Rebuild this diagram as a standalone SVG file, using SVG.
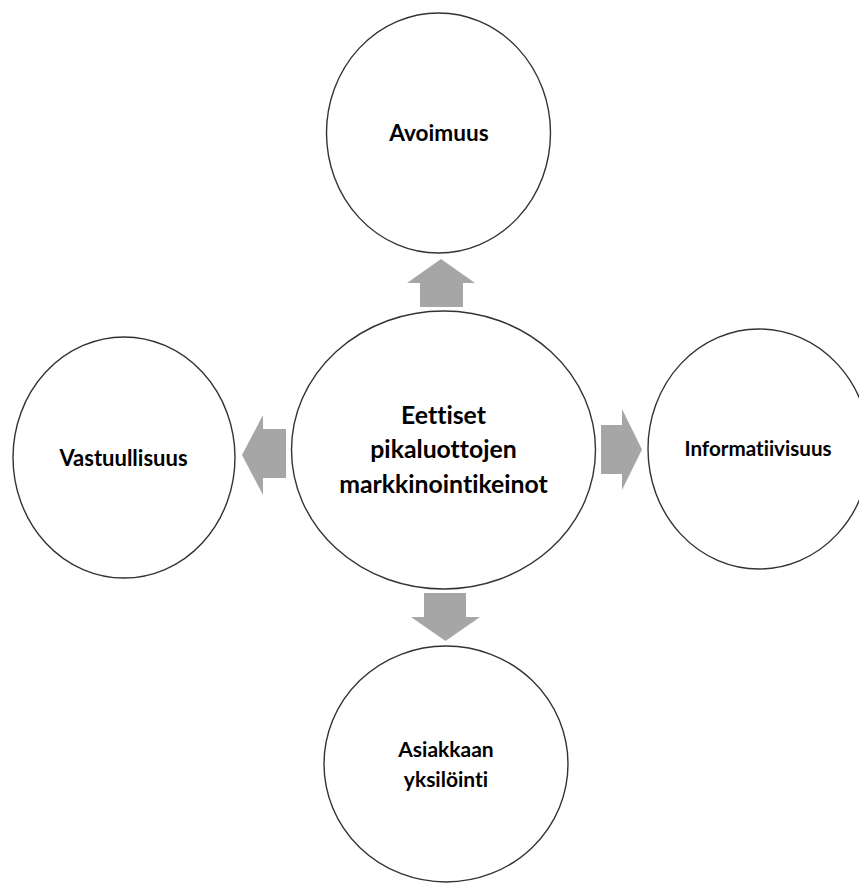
<svg xmlns="http://www.w3.org/2000/svg" width="859" height="883" viewBox="0 0 859 883">
<style>
  .node { fill: #ffffff; stroke: #333333; stroke-width: 1.4; }
  .lbl { font-family: Lato, "Liberation Sans", sans-serif; font-weight: 700; font-size: 22px; fill: #000000; text-anchor: middle; font-variant-ligatures: none; }
  .big { font-size: 24.8px; }
  .arrow { fill: #a6a6a6; stroke: none; }
</style>
<rect width="859" height="883" fill="#ffffff"/>
<g id="connectors">
  <polygon class="arrow" points="420,307 420,283 407,283 441,259 475,283 463,283 463,307"/>
  <polygon class="arrow" points="286,429 263,429 263,415 242,455 263,495 263,478 286,478"/>
  <polygon class="arrow" points="601,425 622,425 622,409 642,449.5 622,490 622,474 601,474"/>
  <polygon class="arrow" points="424,593 466,593 466,617 480,617 445.5,641 411,617 424,617"/>
</g>
<g id="node-center">
  <ellipse class="node" cx="443.5" cy="450" rx="152" ry="139"/>
  <text class="lbl big" x="443.5" y="424">Eettiset</text>
  <text class="lbl big" x="443.5" y="458">pikaluottojen</text>
  <text class="lbl big" x="443.5" y="493">markkinointikeinot</text>
</g>
<g id="node-top">
  <ellipse class="node" cx="438.5" cy="133" rx="112" ry="120"/>
  <text class="lbl" x="439" y="141" style="font-size:22.6px">Avoimuus</text>
</g>
<g id="node-left">
  <ellipse class="node" cx="124" cy="457.5" rx="111" ry="120.5"/>
  <text class="lbl" x="123.5" y="466">Vastuullisuus</text>
</g>
<g id="node-right">
  <ellipse class="node" cx="759" cy="449" rx="111" ry="120"/>
  <text class="lbl" x="758" y="456" style="font-size:20.6px">Informatiivisuus</text>
</g>
<g id="node-bottom">
  <ellipse class="node" cx="446" cy="764" rx="122" ry="118"/>
  <text class="lbl" x="446" y="757" style="font-size:21px">Asiakkaan</text>
  <text class="lbl" x="446" y="787" style="font-size:21px">yksilöinti</text>
</g>
</svg>
